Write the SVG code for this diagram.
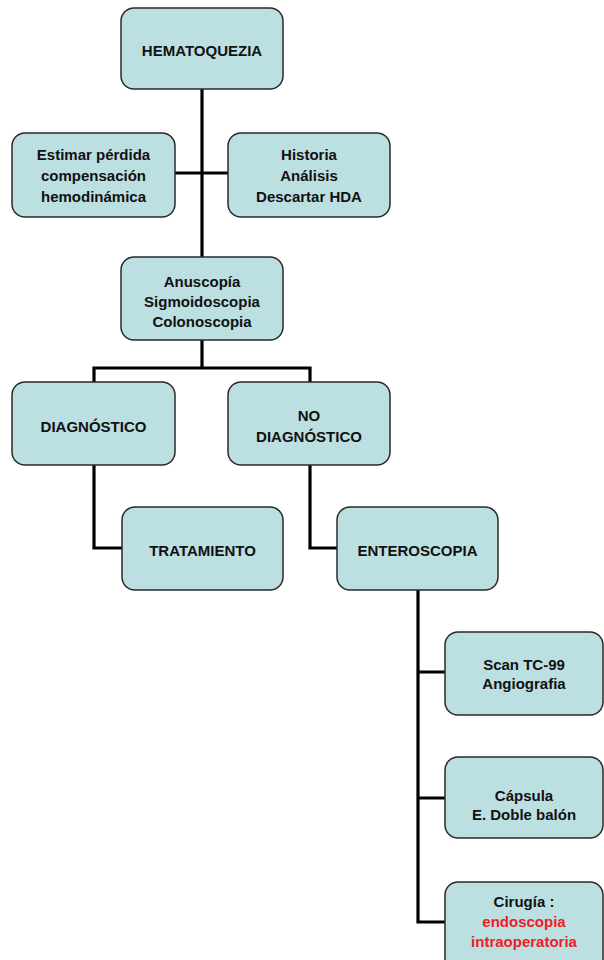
<svg xmlns="http://www.w3.org/2000/svg" width="604" height="960" viewBox="0 0 604 960">
<style>
.box{fill:#bcdfe1;stroke:#2a2a2a;stroke-width:1.5}
.t{font-family:"Liberation Sans",Arial,sans-serif;font-weight:bold;font-size:15px;fill:#111;text-anchor:middle}
.red{fill:#ee1c25}
.c{fill:none;stroke:#000;stroke-width:3.2}
</style>
<rect width="604" height="960" fill="#fff"/>
<g id="connectors">
<path class="c" d="M202 89 V257"/>
<path class="c" d="M175 173 H228"/>
<path class="c" d="M202 340 V368 M94 368 H310 M94 366.4 V382 M310 366.4 V382"/>
<path class="c" d="M94 465 V548 H122"/>
<path class="c" d="M310 465 V548 H337"/>
<path class="c" d="M418 590 V922 M418 672 H445 M418 798 H445 M416.4 922 H445"/>
</g>
<g id="n1"><rect class="box" x="121" y="8" width="162" height="81" rx="13"/><text class="t" x="202" y="56">HEMATOQUEZIA</text></g>
<g id="n2"><rect class="box" x="12" y="133" width="163" height="84" rx="13"/><text class="t" x="93.5" y="160">Estimar pérdida</text><text class="t" x="93.5" y="181">compensación</text><text class="t" x="93.5" y="202">hemodinámica</text></g>
<g id="n3"><rect class="box" x="228" y="133" width="162" height="84" rx="13"/><text class="t" x="309" y="160">Historia</text><text class="t" x="309" y="181">Análisis</text><text class="t" x="309" y="202">Descartar HDA</text></g>
<g id="n4"><rect class="box" x="121" y="257" width="162" height="83" rx="13"/><text class="t" x="202" y="287">Anuscopía</text><text class="t" x="202" y="307">Sigmoidoscopia</text><text class="t" x="202" y="327">Colonoscopia</text></g>
<g id="n5"><rect class="box" x="12" y="382" width="163" height="83" rx="13"/><text class="t" x="93.5" y="432">DIAGNÓSTICO</text></g>
<g id="n6"><rect class="box" x="228" y="382" width="162" height="83" rx="13"/><text class="t" x="309" y="421">NO</text><text class="t" x="309" y="442">DIAGNÓSTICO</text></g>
<g id="n7"><rect class="box" x="122" y="507" width="161" height="83" rx="13"/><text class="t" x="202.5" y="556">TRATAMIENTO</text></g>
<g id="n8"><rect class="box" x="337" y="507" width="161" height="83" rx="13"/><text class="t" x="417.5" y="556">ENTEROSCOPIA</text></g>
<g id="n9"><rect class="box" x="445" y="632" width="158" height="83" rx="13"/><text class="t" x="524" y="670">Scan TC-99</text><text class="t" x="524" y="689">Angiografia</text></g>
<g id="n10"><rect class="box" x="445" y="757" width="158" height="81" rx="13"/><text class="t" x="524" y="801">Cápsula</text><text class="t" x="524" y="820">E. Doble balón</text></g>
<g id="n11"><rect class="box" x="445" y="882" width="158" height="90" rx="13"/><text class="t" x="524" y="907">Cirugía :</text><text class="t red" x="524" y="927">endoscopia</text><text class="t red" x="524" y="947">intraoperatoria</text></g>
</svg>
